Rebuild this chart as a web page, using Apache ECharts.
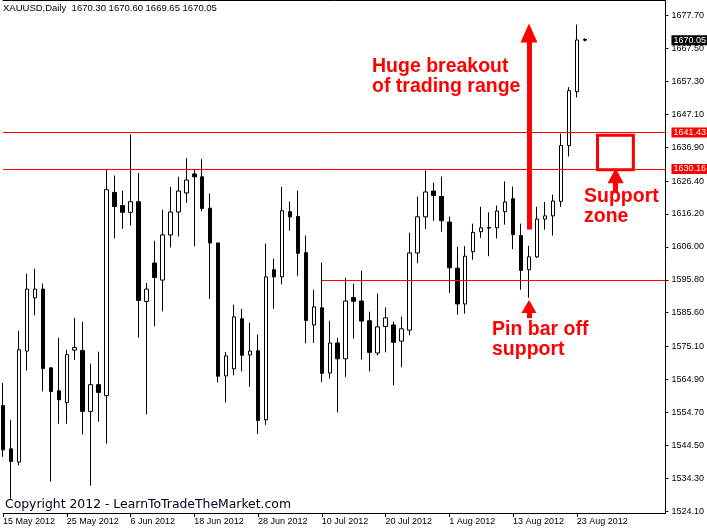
<!DOCTYPE html>
<html><head><meta charset="utf-8">
<script src="https://cdn.jsdelivr.net/npm/echarts@6/dist/echarts.min.js"></script>
<style>html,body{margin:0;padding:0;background:#fff}#c{width:707px;height:531px}</style>
</head><body><div id="c"></div>
<script>
// ---- data (XAUUSD daily, 15 May 2012 .. 24 Aug 2012) ----
const openP  = [1556.8,1543.4,1539.3,1573.7,1590.2,1592.9,1568.5,1561.4,1557.8,1574.0,
                1573.9,1555.0,1563.3,1559.9,1622.9,1618.8,1616.7,1620.0,1589.1,1601.0,
                1595.7,1609.7,1616.8,1622.7,1628.6,1627.7,1618.0,1607.2,1566.0,1568.2,
                1583.7,1572.5,1573.8,1552.4,1598.9,1596.7,1616.9,1615.4,1604.2,1581.8,
                1587.1,1566.9,1576.2,1571.3,1590.3,1589.2,1583.1,1573.1,1581.3,1581.8,
                1576.8,1580.2,1604.1,1615.3,1623.3,1621.6,1613.7,1599.4,1588.3,1604.5,
                1610.7,1611.8,1611.9,1616.9,1620.9,1609.5,1598.9,1602.9,1614.6,1615.6,
                1620.1,1637.4,1654.1,1670.30];
const highP  = [1563.8,1552.4,1580.0,1597.7,1599.2,1594.6,1568.6,1577.8,1574.1,1584.0,
                1582.8,1569.8,1573.5,1630.1,1628.1,1623.4,1640.8,1628.9,1594.8,1607.9,
                1617.5,1624.6,1627.7,1633.5,1629.9,1633.2,1622.5,1607.3,1573.4,1588.1,
                1586.8,1582.5,1578.8,1607.0,1602.3,1624.6,1620.0,1623.4,1609.5,1592.7,
                1601.1,1583.1,1577.8,1596.4,1594.6,1598.6,1585.9,1591.5,1587.2,1582.8,
                1584.4,1610.4,1621.6,1629.7,1625.8,1627.8,1615.4,1606.0,1606.2,1613.2,
                1618.4,1616.7,1618.8,1626.3,1624.7,1613.2,1606.3,1618.4,1619.9,1622.2,
                1641.1,1655.5,1674.9,1670.60];
const lowP   = [1540.9,1527.9,1538.3,1567.7,1584.8,1561.2,1533.3,1551.2,1551.2,1571.0,
                1547.9,1532.0,1551.8,1545.0,1608.6,1611.6,1612.6,1577.9,1554.1,1581.4,
                1586.0,1605.8,1609.2,1619.6,1606.2,1617.0,1589.9,1564.0,1557.8,1566.2,
                1567.4,1562.6,1548.0,1550.8,1586.8,1594.4,1611.0,1597.0,1576.1,1576.2,
                1564.1,1565.2,1554.7,1565.7,1577.6,1571.1,1567.4,1572.4,1573.3,1563.1,
                1568.7,1578.6,1600.9,1611.5,1614.1,1610.7,1591.7,1585.0,1585.3,1602.0,
                1608.8,1603.1,1608.6,1612.9,1605.3,1592.7,1590.2,1602.6,1611.3,1609.5,
                1618.4,1634.0,1652.3,1669.65];
const closeP = [1543.1,1539.5,1574.1,1592.9,1592.9,1568.3,1561.2,1558.6,1572.6,1574.8,
                1555.0,1563.3,1560.9,1623.7,1618.5,1616.7,1620.0,1589.4,1592.9,1596.5,
                1609.7,1616.8,1623.3,1626.7,1627.7,1617.9,1607.2,1565.9,1572.2,1584.3,
                1572.4,1573.7,1552.2,1596.7,1596.7,1617.2,1615.3,1604.0,1583.2,1587.4,
                1566.8,1576.2,1571.3,1589.2,1589.1,1583.0,1573.3,1581.2,1584.0,1576.4,
                1580.6,1604.1,1615.3,1623.0,1621.9,1614.1,1599.5,1588.3,1603.1,1610.5,
                1611.9,1612.0,1617.1,1619.9,1609.8,1598.7,1602.9,1614.6,1615.6,1620.2,
                1637.4,1654.4,1670.1,1670.05];
const dateLabels   = ['15 May 2012','25 May 2012','6 Jun 2012','18 Jun 2012','28 Jun 2012',
                      '10 Jul 2012','20 Jul 2012','1 Aug 2012','13 Aug 2012','23 Aug 2012'];
const dateLabelIdx = [0,8,16,24,32,40,48,56,64,72];
const priceTicks   = [1524.10,1534.30,1544.50,1554.70,1564.90,1575.10,1585.60,1595.80,
                      1606.00,1616.20,1626.40,1636.90,1647.10,1657.30,1667.50,1677.70];
const levelLines   = [1641.43, 1630.16];
const lastPrice    = 1670.05;
const supportLevel = 1595.6;
const titleText    = 'XAUUSD,Daily  1670.30 1670.60 1669.65 1670.05';

// ---- chart ----
const candles = openP.map((o, i) => [i, o, closeP[i], lowP[i], highP[i]]);
const RED = '#ff0000';
const axisFont = {fontFamily: '"Liberation Sans", Arial, sans-serif', fontSize: 9, color: '#000'};
const annFont = 'bold 19.5px "Liberation Sans", Arial, sans-serif';

const chart = echarts.init(document.getElementById('c'), null, {renderer: 'canvas'});
const levelItems = levelLines.map(v => ({
  yAxis: v,
  lineStyle: {color: RED, width: 1, type: 'solid'},
  label: {show: true, position: 'end', distance: 6, formatter: v.toFixed(2),
          backgroundColor: RED, padding: [1, 3, 0, 2], ...axisFont, color: '#fff'}
}));
chart.setOption({
  animation: false,
  backgroundColor: '#fff',
  grid: {left: 1, right: 41, top: 0, bottom: 18, containLabel: false},
  xAxis: [{
    type: 'value', min: 0, max: 83.125, gridIndex: 0, position: 'bottom',
    axisLine: {show: true, onZero: false, lineStyle: {color: '#000', width: 1}},
    axisTick: {show: true, length: 4, customValues: dateLabelIdx, lineStyle: {color: '#000'}},
    axisLabel: {show: true, customValues: dateLabelIdx, align: 'left', margin: 4,
                formatter: v => dateLabels[dateLabelIdx.indexOf(Math.round(v))] || '', ...axisFont},
    splitLine: {show: false}
  }, {
    type: 'value', min: 0, max: 83.125, gridIndex: 0, position: 'top',
    axisLine: {show: true, onZero: false, lineStyle: {color: '#000', width: 1}},
    axisTick: {show: false}, axisLabel: {show: false}, splitLine: {show: false}
  }],
  yAxis: {
    type: 'value', position: 'right', min: 1523.52, max: 1682.5,
    axisLine: {show: true, onZero: false, lineStyle: {color: '#000', width: 1}},
    axisTick: {show: true, length: 3, customValues: priceTicks, lineStyle: {color: '#000'}},
    axisLabel: {show: true, customValues: priceTicks, margin: 6,
                formatter: v => v.toFixed(2), ...axisFont},
    splitLine: {show: false}
  },
  series: [{
    type: 'candlestick',
    xAxisIndex: 0,
    data: candles,
    encode: {x: 0, y: [1, 2, 3, 4]},
    barWidth: 4,
    itemStyle: {color: '#fff', color0: '#000', borderColor: '#000', borderColor0: '#000', borderWidth: 1},
    markLine: {
      silent: true,
      symbol: ['none', 'none'],
      label: {show: false},
      data: [
        ...levelItems,
        {yAxis: lastPrice, lineStyle: {color: 'rgba(0,0,0,0)', width: 0},
         label: {show: true, position: 'end', distance: 6, formatter: lastPrice.toFixed(2),
                 backgroundColor: '#000', padding: [1, 3, 0, 2], ...axisFont, color: '#fff'}},
        [{coord: [40, supportLevel], lineStyle: {color: RED, width: 1, type: 'solid'}},
         {coord: [83.125, supportLevel]}],
        // big breakout arrow
        [{coord: [66, 1611.4], symbol: 'none', lineStyle: {color: RED, width: 5, type: 'solid'}},
         {coord: [66, 1672.3], symbol: 'triangle', symbolSize: [17, 19]}],
        // pin bar arrow
        [{coord: [66, 1583.9], symbol: 'none', lineStyle: {color: RED, width: 5, type: 'solid'}},
         {coord: [66, 1587.5], symbol: 'triangle', symbolSize: [15, 13]}],
        // support zone arrow
        [{coord: [76.875, 1622.8], symbol: 'none', lineStyle: {color: RED, width: 5, type: 'solid'}},
         {coord: [76.875, 1628.0], symbol: 'triangle', symbolSize: [16, 15]}]
      ]
    },
    markArea: {
      silent: true,
      itemStyle: {color: 'rgba(0,0,0,0)', borderColor: RED, borderWidth: 3},
      data: [[{coord: [74.6, 1640.6]}, {coord: [79.1, 1629.9]}]]
    }
  }],
  graphic: [
    {type: 'text', left: 3, top: 3, z: 100,
     style: {text: titleText, fill: '#000', font: '9.5px "Liberation Sans", Arial, sans-serif'}},
    {type: 'text', left: 5, top: 499, z: 100,
     style: {text: 'Copyright 2012 - LearnToTradeTheMarket.com', fill: '#00001a',
             font: '12.4px "DejaVu Sans", sans-serif'}},
    {type: 'text', left: 372, top: 57, z: 100,
     style: {text: 'Huge breakout\nof trading range', fill: RED, font: annFont, lineHeight: 20}},
    {type: 'text', left: 584, top: 187, z: 100,
     style: {text: 'Support\nzone', fill: RED, font: annFont, lineHeight: 20}},
    {type: 'text', left: 492, top: 320, z: 100,
     style: {text: 'Pin bar off\nsupport', fill: RED, font: annFont, lineHeight: 19.5}}
  ]
});
</script></body></html>
